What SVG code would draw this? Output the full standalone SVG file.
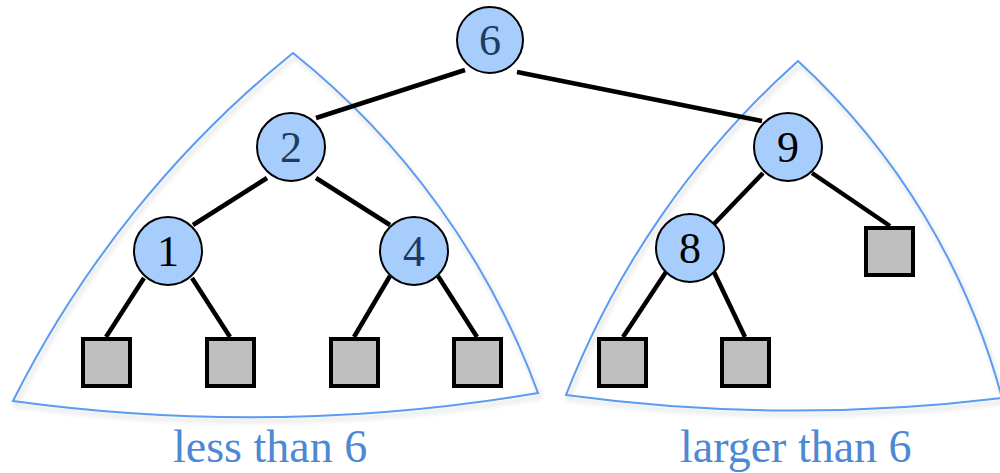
<svg xmlns="http://www.w3.org/2000/svg" width="1000" height="473" viewBox="0 0 1000 473">
<defs>
<filter id="sh" x="-10%" y="-10%" width="120%" height="130%">
<feDropShadow dx="2" dy="4" stdDeviation="2.5" flood-color="#000" flood-opacity="0.18"/>
</filter>
</defs>
<style>
.region{fill:none;stroke:#5b9cf0;stroke-width:2;stroke-linejoin:miter;filter:url(#sh)}
.edge{stroke:#000;stroke-width:4.5;stroke-linecap:butt}
.node circle{fill:#a6cdfb;stroke:#000;stroke-width:2}
.leaf rect{fill:#bfbfbf;stroke:#000;stroke-width:4}
.num{font-family:"Liberation Serif","Times New Roman",serif;font-size:44px;text-anchor:middle}
.navy{fill:#1e3b63}
.blk{fill:#000}
.lbl{font-family:"Liberation Serif","Times New Roman",serif;font-size:46px;fill:#4d88d4}
</style>
<g id="regions">
<path class="region" d="M293,53 A1053,1053 0 0 0 13,401 A1733,1733 0 0 0 538,393 A780,780 0 0 0 293,53 Z"/>
<path class="region" d="M798,61 A875,875 0 0 0 566,395 A1704,1704 0 0 0 1002,398 A707,707 0 0 0 798,61 Z"/>
</g>
<g id="connectors">
<line class="edge" x1="465" y1="70" x2="316" y2="118"/>
<line class="edge" x1="517" y1="72" x2="762" y2="121"/>
<line class="edge" x1="267" y1="178" x2="193" y2="225"/>
<line class="edge" x1="316" y1="178" x2="390" y2="225"/>
<line class="edge" x1="144" y1="278" x2="106" y2="337"/>
<line class="edge" x1="192" y1="278" x2="230" y2="337"/>
<line class="edge" x1="390" y1="276" x2="354" y2="337"/>
<line class="edge" x1="438" y1="276" x2="477" y2="337"/>
<line class="edge" x1="763" y1="173" x2="714" y2="224"/>
<line class="edge" x1="812" y1="173" x2="890" y2="226"/>
<line class="edge" x1="666" y1="272" x2="623" y2="337"/>
<line class="edge" x1="714" y1="272" x2="745" y2="337"/>
</g>
<g id="n6" class="node"><circle cx="490" cy="40" r="33"/><text class="num navy" x="490" y="55">6</text></g>
<g id="n2" class="node"><circle cx="291" cy="147" r="34"/><text class="num navy" x="291" y="162">2</text></g>
<g id="n9" class="node"><circle cx="788" cy="147" r="34"/><text class="num blk" x="788" y="162">9</text></g>
<g id="n1" class="node"><circle cx="168" cy="251" r="34"/><text class="num blk" x="168" y="266">1</text></g>
<g id="n4" class="node"><circle cx="414" cy="251" r="34"/><text class="num navy" x="414" y="266">4</text></g>
<g id="n8" class="node"><circle cx="690" cy="248" r="34"/><text class="num blk" x="690" y="263">8</text></g>
<g id="l1" class="leaf"><rect x="83" y="339" width="47" height="47"/></g>
<g id="l2" class="leaf"><rect x="207" y="339" width="47" height="47"/></g>
<g id="l3" class="leaf"><rect x="331" y="339" width="47" height="47"/></g>
<g id="l4" class="leaf"><rect x="454" y="339" width="47" height="47"/></g>
<g id="l5" class="leaf"><rect x="599" y="339" width="47" height="47"/></g>
<g id="l6" class="leaf"><rect x="722" y="339" width="47" height="47"/></g>
<g id="l7" class="leaf"><rect x="866" y="228" width="47" height="47"/></g>
<g id="labels">
<text class="lbl" x="173" y="462">less than 6</text>
<text class="lbl" x="680" y="462">larger than 6</text>
</g>
</svg>
